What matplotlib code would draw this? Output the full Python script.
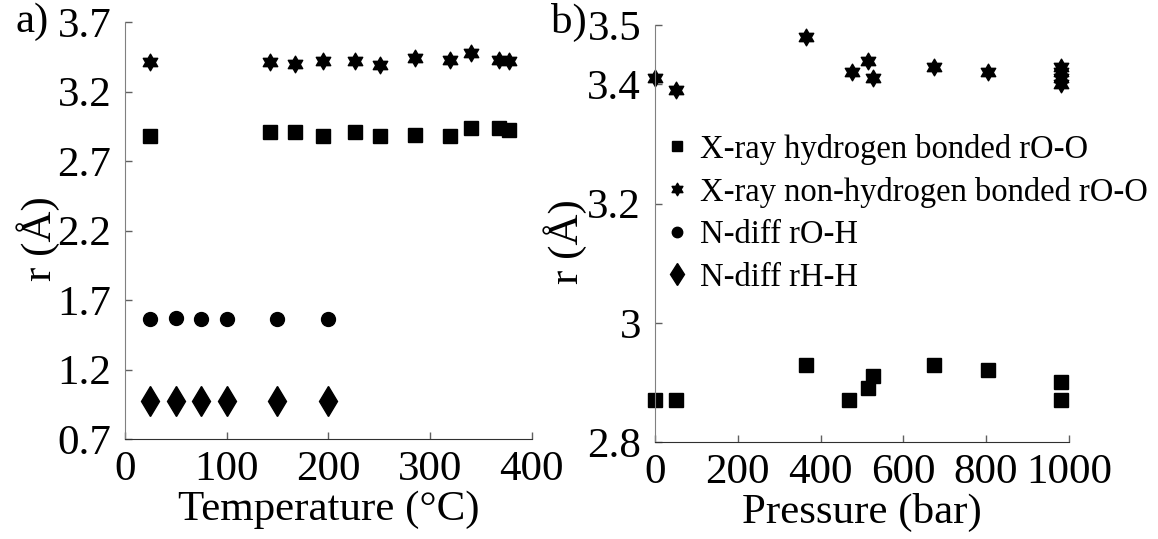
# r(O-O), r(O-H), r(H-H) vs temperature (a) and pressure (b)
import numpy as np
import matplotlib
matplotlib.use('Agg')
import matplotlib.pyplot as plt
from matplotlib.path import Path

plt.rcParams['font.family'] = ['Liberation Serif', 'DejaVu Serif']

# panel a: temperature (deg C)
T_xray   = [25, 143, 167, 195, 226, 251, 285, 320, 340, 368, 378]
hb_T     = [2.88, 2.91, 2.91, 2.88, 2.91, 2.88, 2.89, 2.88, 2.94, 2.94, 2.92]
nhb_T    = [3.41, 3.41, 3.40, 3.42, 3.42, 3.39, 3.44, 3.43, 3.48, 3.43, 3.42]
T_ndiff  = [25, 50, 75, 100, 150, 200]
rOH      = [1.56, 1.57, 1.56, 1.56, 1.56, 1.56]
rHH      = [0.97, 0.97, 0.97, 0.97, 0.97, 0.97]

# panel b: pressure (bar)
P_hb     = [0, 50, 364, 468, 515, 528, 675, 804, 980, 980]
hb_P     = [2.87, 2.87, 2.93, 2.87, 2.89, 2.91, 2.93, 2.92, 2.90, 2.87]
P_nhb    = [0, 50, 364, 477, 515, 528, 675, 804, 980, 980, 980, 980]
nhb_P    = [3.41, 3.39, 3.48, 3.42, 3.44, 3.41, 3.43, 3.42, 3.43, 3.42, 3.41, 3.40]

labels = ['X-ray hydrogen bonded rO-O', 'X-ray non-hydrogen bonded rO-O',
          'N-diff rO-H', 'N-diff rH-H']

# six pointed star marker
ang = np.deg2rad(90 + 30 * np.arange(12))
rad = np.where(np.arange(12) % 2 == 0, 1.0, 1 / np.sqrt(3))
verts = np.column_stack([rad * np.cos(ang), rad * np.sin(ang)])
star = Path(np.vstack([verts, verts[:1]]), closed=True)

fig = plt.figure(figsize=(11.58, 5.39), dpi=100)
ax1 = fig.add_axes([0.108, 0.1855, 0.351, 0.7735])
ax2 = fig.add_axes([0.5656, 0.18, 0.3574, 0.774])

h1, = ax1.plot(T_xray, hb_T, 's', color='k', ms=9.5, ls='none')
h2, = ax1.plot(T_xray, nhb_T, marker=star, color='k', ms=12, ls='none')
h3, = ax1.plot(T_ndiff, rOH, 'o', color='k', ms=10, ls='none')
h4, = ax1.plot(T_ndiff, rHH, 'd', color='k', ms=15, ls='none')

ax2.plot(P_hb, hb_P, 's', color='k', ms=9.5, ls='none')
ax2.plot(P_nhb, nhb_P, marker=star, color='k', ms=12, ls='none')

ax1.set_xlim(0, 400)
ax1.set_ylim(0.7, 3.7)
ax1.set_xticks(np.arange(0, 401, 100))
ax1.set_yticks([0.7, 1.2, 1.7, 2.2, 2.7, 3.2, 3.7])
ax1.set_yticklabels(['0.7', '1.2', '1.7', '2.2', '2.7', '3.2', '3.7'])

ax2.set_xlim(0, 1000)
ax2.set_ylim(2.8, 3.5)
ax2.set_xticks(np.arange(0, 1001, 200))
ax2.set_yticks([2.8, 3.0, 3.2, 3.4, 3.5])
ax2.set_yticklabels(['2.8', '3', '3.2', '3.4', '3.5'])

for ax in (ax1, ax2):
    for s in ('top', 'right'):
        ax.spines[s].set_visible(False)
    ax.spines['left'].set_color('#808080')
    ax.spines['bottom'].set_color('#303030')
    ax.tick_params(direction='in', length=5, width=1, color='#606060',
                   labelsize=31)
    ax.tick_params(axis='y', pad=10)
    ax.tick_params(axis='x', pad=8)
    for m in ax.get_xticklines() + ax.get_yticklines():
        m.set_clip_on(False)
    for ln in ax.lines:
        ln.set_clip_on(False)

ax1.set_xlabel('Temperature (°C)', fontsize=31, labelpad=1)
ax2.set_xlabel('Pressure (bar)', fontsize=31, labelpad=1)
ax1.set_ylabel('r (Å)', fontsize=31)
ax2.set_ylabel('r (Å)', fontsize=31)
ax1.yaxis.set_label_coords(-0.16, 0.48)
ax2.yaxis.set_label_coords(-0.165, 0.48)

fig.text(0.013, 0.959, 'a)', fontsize=31, va='center')
fig.text(0.476, 0.959, 'b)', fontsize=31, va='center')

ax2.legend([h1, h2, h3, h4], labels, loc='upper left',
           bbox_to_anchor=(0.576, 0.752), bbox_transform=fig.transFigure,
           frameon=False, fontsize=23.5, markerscale=0.75, handlelength=0.6,
           handletextpad=0.41, labelspacing=0.37, borderpad=0, borderaxespad=0)

fig.savefig('out.png', dpi=100)
